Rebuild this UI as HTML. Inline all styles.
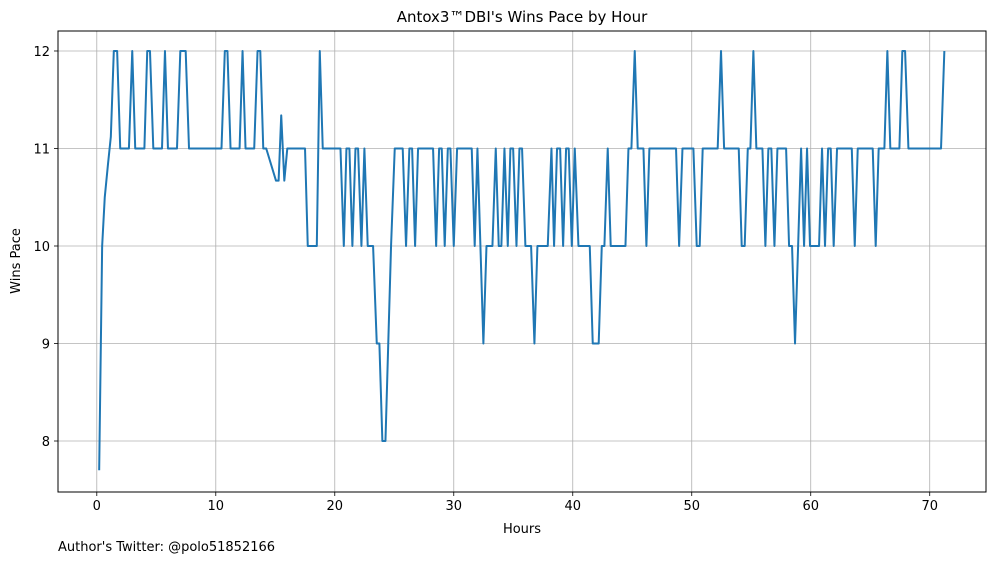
<!DOCTYPE html>
<html><head><meta charset="utf-8">
<style>
html,body{margin:0;padding:0;background:#fff;}
svg{display:block;font-family:"DejaVu Sans","Liberation Sans",sans-serif;}
</style></head>
<body>
<svg id="chart" width="997" height="562" viewBox="0 0 997 562" xmlns="http://www.w3.org/2000/svg">
<rect x="0" y="0" width="997" height="562" fill="#fff"/>
<g id="grid"></g>
<g id="series"></g>
<rect x="58" y="31" width="928" height="461" fill="none" stroke="#000" stroke-width="1"/>
<g id="xticks"></g>
<g id="yticks"></g>
<text x="522" y="22" text-anchor="middle" font-size="15">Antox3™DBI's Wins Pace by Hour</text>
<text x="522" y="533" text-anchor="middle" font-size="13">Hours</text>
<text x="20" y="261" text-anchor="middle" font-size="13" transform="rotate(-90 20 261)">Wins Pace</text>
<text x="58" y="551" font-size="13">Author's Twitter: @polo51852166</text>
</svg>
<script>
const xTicks = [0,10,20,30,40,50,60,70];
const yTicks = [8,9,10,11,12];
const hours = [0.2,0.45,0.67,0.95,1.18,1.43,1.71,1.97,2.7,2.98,3.23,4.0,4.24,4.47,4.75,5.48,5.73,5.98,6.74,7.02,7.47,7.75,10.48,10.76,10.98,11.24,12.0,12.25,12.5,13.23,13.51,13.74,13.99,14.24,15.06,15.28,15.5,15.76,16.01,17.5,17.73,18.49,18.74,18.99,20.48,20.76,20.98,21.23,21.48,21.74,21.96,22.24,22.49,22.77,23.22,23.53,23.75,24.0,24.26,24.73,25.04,25.71,25.99,26.27,26.5,26.75,27.0,28.26,28.52,28.77,28.99,29.24,29.5,29.72,30.0,30.28,31.51,31.76,31.99,32.49,32.75,33.25,33.53,33.78,34.0,34.26,34.54,34.76,34.99,35.27,35.52,35.74,36.02,36.5,36.78,37.03,37.9,38.21,38.43,38.68,38.94,39.19,39.44,39.66,39.92,40.17,40.48,41.43,41.68,42.18,42.44,42.66,42.94,43.19,44.43,44.68,44.93,45.21,45.46,45.94,46.19,46.44,48.68,48.94,49.22,50.14,50.42,50.67,50.92,52.18,52.46,52.72,53.95,54.2,54.45,54.71,54.93,55.18,55.43,55.94,56.19,56.44,56.69,56.95,57.2,57.93,58.18,58.43,58.68,58.94,59.19,59.44,59.69,59.94,60.7,60.95,61.2,61.46,61.68,61.93,62.21,63.45,63.7,63.95,65.21,65.46,65.71,66.19,66.44,66.69,67.45,67.7,67.93,68.21,70.95,71.23];
const pace = [7.7,10,10.5,10.85,11.12,12,12,11,11,12,11,11,12,12,11,11,12,11,11,12,12,11,11,12,12,11,11,12,11,11,12,12,11,11,10.67,10.67,11.34,10.67,11,11,10,10,12,11,11,10,11,11,10,11,11,10,11,10,10,9,9,8,8,10,11,11,10,11,11,10,11,11,10,11,11,10,11,11,10,11,11,10,11,9,10,10,11,10,10,11,10,11,11,10,11,11,10,10,9,10,10,11,10,11,11,10,11,11,10,11,10,10,9,9,10,10,11,10,10,11,11,12,11,11,10,11,11,10,11,11,10,10,11,11,12,11,11,10,10,11,11,12,11,11,10,11,11,10,11,11,10,10,9,10,11,10,11,10,10,11,10,11,11,10,11,11,10,11,11,10,11,11,12,11,11,12,12,11,11,12];

const NS="http://www.w3.org/2000/svg";
const L=58,R=986,T=31,B=492;
const xMin=-3.26,xMax=74.73,yMin=7.477,yMax=12.205;
function xs(v){return L+(v-xMin)/(xMax-xMin)*(R-L);}
function ys(v){return B-(v-yMin)/(yMax-yMin)*(B-T);}
function mk(tag,attrs,parent){const e=document.createElementNS(NS,tag);for(const k in attrs)e.setAttribute(k,attrs[k]);parent.appendChild(e);return e;}
const grid=document.getElementById('grid'),xt=document.getElementById('xticks'),yt=document.getElementById('yticks'),ser=document.getElementById('series');
xTicks.forEach(t=>{
  const x=xs(t);
  const g=mk('line',{x1:x,x2:x,y1:T,y2:B,stroke:'#b0b0b0','stroke-width':0.8},grid);
  
  
  const tk=mk('line',{x1:x,x2:x,y1:B,y2:B+4,stroke:'#000','stroke-width':0.8},xt);
  
  
  const lb=mk('text',{x:x,y:B+18,'text-anchor':'middle','font-size':13},xt);
  lb.textContent=t;
  
  
});
yTicks.forEach(t=>{
  const y=ys(t);
  const g=mk('line',{x1:L,x2:R,y1:y,y2:y,stroke:'#b0b0b0','stroke-width':0.8},grid);
  
  
  const tk=mk('line',{x1:L-4,x2:L,y1:y,y2:y,stroke:'#000','stroke-width':0.8},yt);
  
  
  const lb=mk('text',{x:L-8,y:y+5,'text-anchor':'end','font-size':13},yt);
  lb.textContent=t;
  
  
});
const d=hours.map((h,i)=>(i?'L':'M')+xs(h).toFixed(2)+','+ys(pace[i]).toFixed(2)).join(' ');
const p=mk('path',{d:d,fill:'none',stroke:'#1f77b4','stroke-width':2,'stroke-linejoin':'round'},ser);


</script>
</body></html>
